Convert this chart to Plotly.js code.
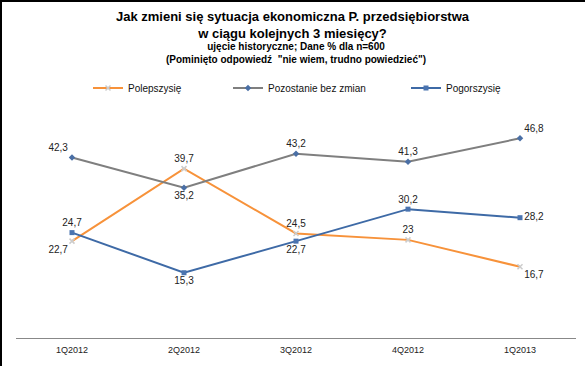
<!DOCTYPE html>
<html><head><meta charset="utf-8">
<script src="https://cdn.plot.ly/plotly-3.0.1.min.js"></script>
<style>html,body{margin:0;padding:0;background:#fff}#c{width:585px;height:366px;position:relative}
.bt{position:absolute;left:0;top:0;width:585px;height:2px;background:#000;z-index:10}
.bl{position:absolute;left:0;top:0;width:2px;height:366px;background:#000;z-index:10}</style>
</head><body><div id="c"><div class="bt"></div><div class="bl"></div></div>
<script>
const categories = ["1Q2012", "2Q2012", "3Q2012", "4Q2012", "1Q2013"];
const seriesNames = ["Polepszysię", "Pozostanie bez zmian", "Pogorszysię"];
const polepszy = [22.7, 39.7, 24.5, 23, 16.7];
const bezZmian = [42.3, 35.2, 43.2, 41.3, 46.8];
const pogorszy = [24.7, 15.3, 22.7, 30.2, 28.2];
const labelsPolepszy = ["22,7", "39,7", "24,5", "23", "16,7"];
const labelsBezZmian = ["42,3", "35,2", "43,2", "41,3", "46,8"];
const labelsPogorszy = ["24,7", "15,3", "22,7", "30,2", "28,2"];

const FAM = "Liberation Sans, Arial, sans-serif";
const tf = {family: FAM, size: 10, color: "#222"};
const traces = [
  {x: categories, y: polepszy, name: seriesNames[0], mode: "lines+markers+text",
   text: labelsPolepszy, textposition: ["bottom left","top center","top center","top center","bottom right"],
   textfont: tf, line: {color: "#F7923A", width: 2}, marker: {symbol: "x-thin", size: 5, color: "#ddd", line: {color: "#ccc", width: 1.5}},
   legend: "legend", cliponaxis: false},
  {x: categories, y: bezZmian, name: seriesNames[1], mode: "lines+markers+text",
   text: labelsBezZmian, textposition: ["top left","bottom center","top center","top center","top right"],
   textfont: tf, line: {color: "#7F7F7F", width: 2}, marker: {symbol: "diamond", size: 5, color: "#4A6FA5"},
   legend: "legend2", cliponaxis: false},
  {x: categories, y: pogorszy, name: seriesNames[2], mode: "lines+markers+text",
   text: labelsPogorszy, textposition: ["top center","bottom center","bottom center","top center","middle right"],
   textfont: tf, line: {color: "#3E6AA6", width: 2}, marker: {symbol: "square", size: 5, color: "#4A74B0"},
   legend: "legend3", cliponaxis: false}
];
const lf = {family: FAM, size: 10, color: "#111"};
const leg = (x) => ({orientation: "h", x: x, xref: "container", y: 1 - 88/366, yref: "container", yanchor: "middle", xanchor: "left", font: lf, bgcolor: "rgba(0,0,0,0)", itemwidth: 30});
const layout = {
  width: 585, height: 366,
  margin: {l: 16, r: 9, t: 82, b: 28, autoexpand: false},
  paper_bgcolor: "#fff", plot_bgcolor: "#fff",
  title: {text: "Jak zmieni się sytuacja ekonomiczna P. przedsiębiorstwa<br>w ciągu kolejnych 3 miesięcy?",
    font: {family: FAM, size: 13, color: "#000", weight: "bold"},
    x: 0.5, xanchor: "center", xref: "container", y: 1 - 21/366, yanchor: "top", yref: "container"},
  annotations: [{text: "ujęcie historyczne; Dane % dla n=600<br>(Pominięto odpowiedź  \"nie wiem, trudno powiedzieć\")",
    xref: "paper", yref: "paper", x: 0.5, y: (338 - 39) / 256, yanchor: "top", xanchor: "center", showarrow: false,
    font: {family: FAM, size: 10, color: "#000", weight: "bold"}}],
  xaxis: {type: "category", range: [-0.5, 4.5], showgrid: false, zeroline: false, showline: true, linecolor: "#888", linewidth: 1,
    ticks: "", ticklabelstandoff: 3, tickfont: {family: FAM, size: 9, color: "#222"}, fixedrange: true},
  yaxis: {range: [0, 60], showgrid: false, zeroline: false, showline: false, showticklabels: false, ticks: "", fixedrange: true},
  showlegend: true,
  legend: leg(88/585), legend2: leg(228/585), legend3: leg(406/585)
};
Plotly.newPlot("c", traces, layout, {displayModeBar: false, staticPlot: true});
</script></body></html>
